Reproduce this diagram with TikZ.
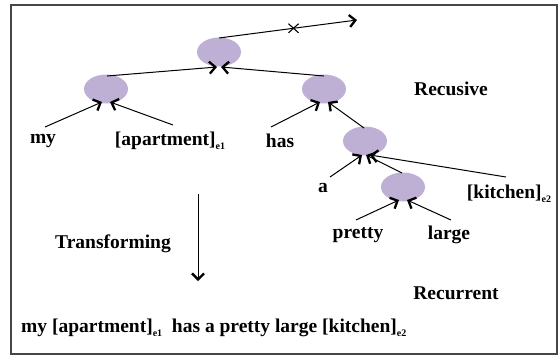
\documentclass[tikz,border=0pt]{standalone}
\usepackage{fontspec}
\setmainfont{Liberation Serif}
\usetikzlibrary{arrows.meta,shapes.misc,shapes.geometric}
\definecolor{nodefill}{RGB}{190,176,212}
\definecolor{framecol}{RGB}{70,70,70}
\newcommand{\sbs}[1]{\raisebox{-3.5pt}{\fontsize{10}{10}\selectfont #1}}
\tikzset{
  treenode/.style={ellipse, fill=nodefill, minimum width=44pt, minimum height=29pt, inner sep=0pt},
  word/.style={font=\bfseries\fontsize{19.5}{21}\selectfont, inner sep=0pt},
  edge/.style={line width=1pt, -{Straight Barb[length=6pt,width=12pt,line width=2.3pt]}},
}
\begin{document}
\begin{tikzpicture}[x=1pt,y=-1pt]
\useasboundingbox (0,0) rectangle (559,356);
\draw[framecol, line width=1.5pt] (11,5) rectangle (557,354);

% tree nodes
\node[treenode] (root) at (219,52) {};
\node[treenode] (L) at (106,89) {};
\node[treenode] (R) at (324,89) {};
\node[treenode] (N3) at (365,141) {};
\node[treenode] (N4) at (403,187) {};

% words
\node[word] (my) at (43,141) {my};
\node[word] (apt) at (170,141) {[apartment]\sbs{e1}};
\node[word] (has) at (280,141) {has};
\node[word] (a) at (323,188) {a};
\node[word] (kit) at (509,194) {[kitchen]\sbs{e2}};
\node[word] (pretty) at (358,235) {pretty};
\node[word] (large) at (449,235) {large};
\node[word] (recus) at (451,89) {Recusive};
\node[word] (trans) at (113,244) {Transforming};
\node[word] (recur) at (456,293) {Recurrent};
\node[word, anchor=west] (sent) at (21,328) {my [apartment]\sbs{e1}\ \ has a pretty large [kitchen]\sbs{e2}};

% connector end points
\coordinate (rootTop) at (219,38);
\coordinate (out) at (357,20);
\coordinate (Ltop) at (107,76);
\coordinate (Rtop) at (324,76);
\coordinate (rootInL) at (217,67);
\coordinate (rootInR) at (221,67);
\coordinate (myS) at (45,127);
\coordinate (aptS) at (173,125);
\coordinate (LinA) at (102,102);
\coordinate (LinB) at (110,102);
\coordinate (hasS) at (271,127);
\coordinate (N3top) at (364,128);
\coordinate (RinA) at (320,102);
\coordinate (RinB) at (328,102);
\coordinate (aS) at (330,177);
\coordinate (N4top) at (402,173);
\coordinate (kitS) at (506,177);
\coordinate (N3inA) at (362,155);
\coordinate (N3inB) at (366,155);
\coordinate (N3inC) at (370,155);
\coordinate (prettyS) at (356,220);
\coordinate (largeS) at (451,220);
\coordinate (N4inA) at (399,200);
\coordinate (N4inB) at (407,200);
\coordinate (tA) at (198,194);
\coordinate (tB) at (198,281);

\draw[edge] (rootTop) -- node[pos=0.54, cross out, draw, line width=1.1pt, minimum width=9pt, minimum height=8pt, inner sep=0pt] {} (out);
\draw[edge] (Ltop) -- (rootInL);
\draw[edge] (Rtop) -- (rootInR);
\draw[edge] (myS) -- (LinA);
\draw[edge] (aptS) -- (LinB);
\draw[edge] (hasS) -- (RinA);
\draw[edge] (N3top) -- (RinB);
\draw[edge] (aS) -- (N3inA);
\draw[edge] (N4top) -- (N3inB);
\draw[edge] (kitS) -- (N3inC);
\draw[edge] (prettyS) -- (N4inA);
\draw[edge] (largeS) -- (N4inB);
\draw[edge] (tA) -- (tB);
\end{tikzpicture}
\end{document}
